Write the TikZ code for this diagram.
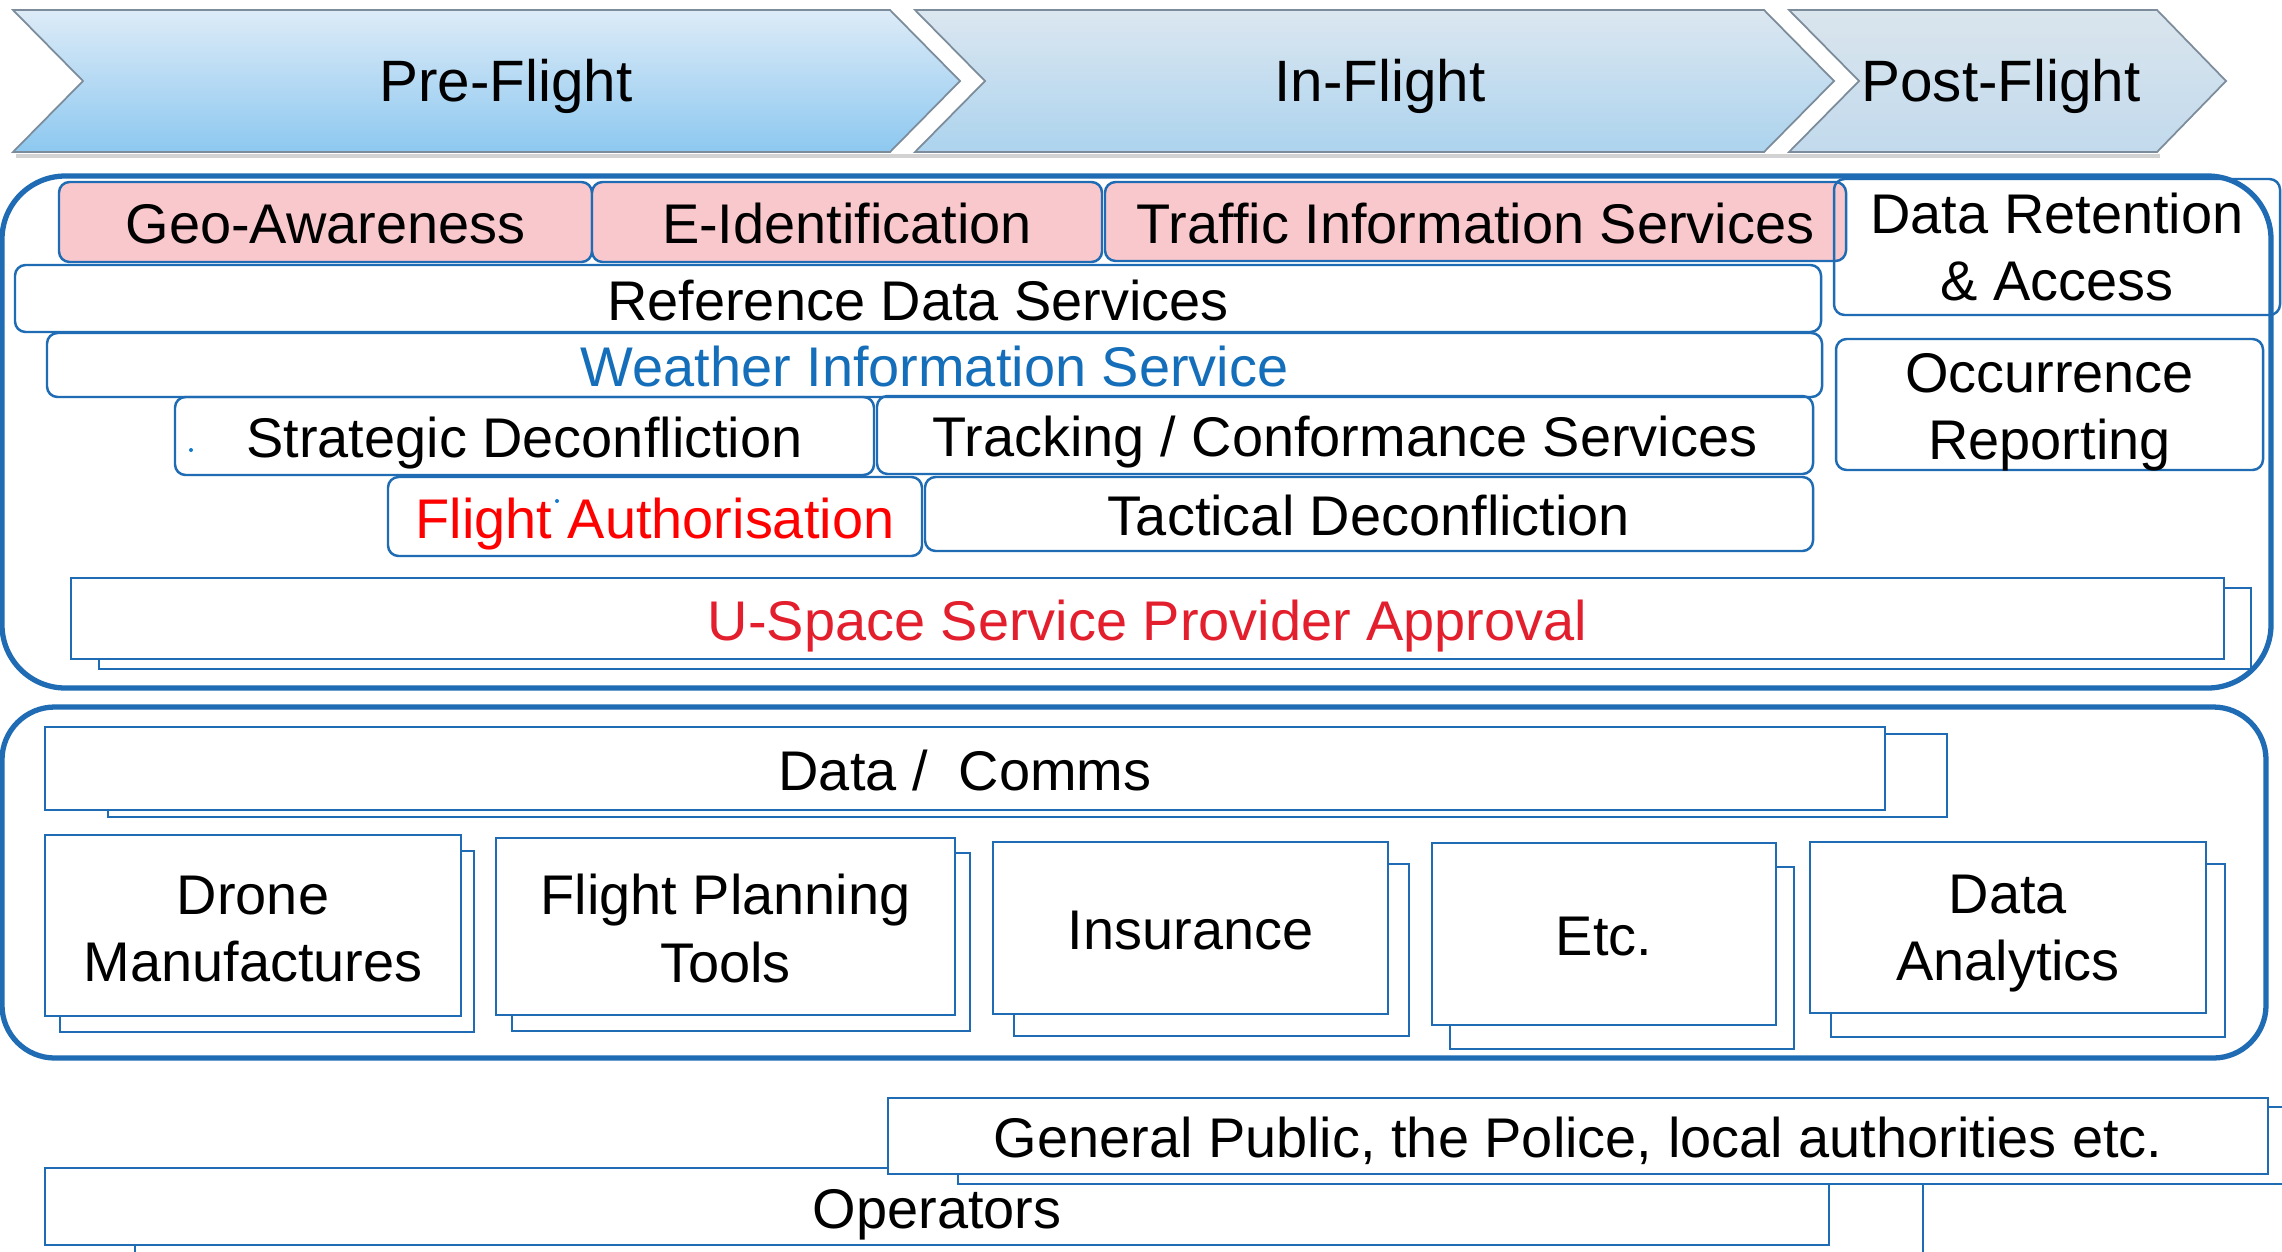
\documentclass[tikz,border=0pt]{standalone}
\usepackage{fontspec}
\setmainfont{Liberation Sans}
\usetikzlibrary{fit}
\definecolor{ublue}{RGB}{31,108,180}
\definecolor{pinkf}{RGB}{248,200,204}
\definecolor{wblue}{RGB}{20,110,185}
\definecolor{fred}{RGB}{255,0,0}
\definecolor{ured}{RGB}{227,30,45}
\definecolor{chevb}{RGB}{125,140,155}
\definecolor{preA}{RGB}{221,235,247}
\definecolor{preB}{RGB}{141,200,240}
\definecolor{inA}{RGB}{214,227,238}
\definecolor{inB}{RGB}{158,204,236}
\definecolor{postA}{RGB}{212,225,235}
\definecolor{postB}{RGB}{184,212,234}
\begin{document}
\begin{tikzpicture}[x=0.01cm,y=-0.01cm,
  lab/.style={font=\fontsize{15.9}{19.2}\selectfont, align=center, inner sep=0pt},
  one/.style={text height=12.5pt, text depth=0pt},
  rbox/.style={draw=ublue, line width=0.7pt, rounded corners=3pt, inner sep=0pt},
  sbox/.style={draw=ublue, line width=0.7pt, inner sep=0pt, fill=white},
  sback/.style={draw=ublue, line width=0.7pt, fill=white},
  container/.style={draw=ublue, line width=1.5pt},
  chev/.style={draw=chevb, line width=0.5pt},
  chevlab/.style={font=\fontsize{16.6}{20}\selectfont, inner sep=0pt, text height=13pt, text depth=0pt}
]
\useasboundingbox (0,0) rectangle (2282,1251);
\clip (0,0) rectangle (2282,1251);
\fill[white] (0,0) rectangle (2282,1251);

% chevrons
\draw[gray!35, line width=1.2pt] (16,156) -- (2160,156);
\path[chev, top color=preA, bottom color=preB] (13,10) -- (890,10) -- (960,81) -- (890,152) -- (13,152) -- (83,81) -- cycle;
\path[chev, top color=inA, bottom color=inB, fill opacity=0.85] (915,10) -- (1764,10) -- (1834,81) -- (1764,152) -- (915,152) -- (985,81) -- cycle;
\path[chev, top color=postA, bottom color=postB, fill opacity=0.85] (1789,10) -- (2157,10) -- (2226,81) -- (2157,152) -- (1789,152) -- (1859,81) -- cycle;
\node[chevlab] (pre) at (506,79) {Pre-Flight};
\node[chevlab] (in) at (1380,79) {In-Flight};
\node[chevlab] (post) at (2001,79) {Post-Flight};

% upper container
\draw[container, rounded corners=18pt] (2,176) rectangle (2271,688);
\node[rbox, fill=pinkf, fit={(59,182) (592,262)}] (geo) {};
\node[lab, one] (geoT) at (geo.center) {Geo-Awareness};
\node[rbox, fill=pinkf, fit={(592,182) (1102,262)}] (eid) {};
\node[lab, one] (eidT) at (eid.center) {E-Identification};
\node[rbox, fill=pinkf, fit={(1105,182) (1846,261)}] (tis) {};
\node[lab, one] (tisT) at (tis.center) {Traffic Information Services};
\node[rbox, fit={(1834,179) (2280,315)}] (dra) {};
\node[lab] (draT) at (dra.center) {Data Retention\\\& Access};
\node[rbox, fit={(1836,339) (2263,470)}] (occ) {};
\node[lab, yshift=-2.2pt] (occT) at (occ.center) {Occurrence\\Reporting};
\node[rbox, fit={(15,265) (1821,332)}] (rds) {};
\node[lab, one] (rdsT) at (rds.center) {Reference Data Services};
\node[rbox, fit={(47,333) (1822,397)}] (wis) {};
\node[lab, one, text=wblue] (wisT) at (wis.center) {Weather Information Service};
\node[rbox, fit={(175,397) (874,475)}] (sdc) {};
\node[lab, one] (sdcT) at (sdc.center) {Strategic Deconfliction};
\node[rbox, fit={(877,396) (1813,474)}] (tcs) {};
\node[lab, one] (tcsT) at (tcs.center) {Tracking / Conformance Services};
\node[rbox, fit={(388,477) (922,556)}] (fa) {};
\node[lab, one, text=fred] (faT) at (fa.center) {Flight Authorisation};
\node[rbox, fit={(925,477) (1813,551)}] (tac) {};
\node[lab, one] (tacT) at (tac.center) {Tactical Deconfliction};
\fill[cyan!60!blue] (191,450) circle (2);
\fill[cyan!60!blue] (557,501) circle (2);
\draw[sback] (99,588) rectangle (2251,669);
\node[sbox, fit={(71,578) (2224,659)}] (usp) {};
\node[lab, one, text=ured] (uspT) at (usp.center) {U-Space Service Provider Approval};

% lower container
\draw[container, rounded corners=15pt] (2,707) rectangle (2266,1058);
\draw[sback] (108,734) rectangle (1947,817);
\node[sbox, fit={(45,727) (1885,810)}] (dc) {};
\node[lab, one] (dcT) at (dc.center) {Data /\ \ Comms};
\draw[sback] (60,851) rectangle (474,1032);
\node[sbox, fit={(45,835) (461,1016)}] (drone) {};
\node[lab, yshift=-1pt] (droneT) at (drone.center) {Drone\\Manufactures};
\draw[sback] (512,853) rectangle (970,1031);
\node[sbox, fit={(496,838) (955,1015)}] (fpt) {};
\node[lab, yshift=-0.5pt] (fptT) at (fpt.center) {Flight Planning\\Tools};
\draw[sback] (1014,864) rectangle (1409,1036);
\node[sbox, fit={(993,842) (1388,1014)}] (ins) {};
\node[lab, one] (insT) at (ins.center) {Insurance};
\draw[sback] (1450,867) rectangle (1794,1049);
\node[sbox, fit={(1432,843) (1776,1025)}] (etc) {};
\node[lab, one] (etcT) at (etc.center) {Etc.};
\draw[sback] (1831,864) rectangle (2225,1037);
\node[sbox, fit={(1810,842) (2206,1013)}] (dan) {};
\node[lab, yshift=-1.7pt] (danT) at (dan.center) {Data\\Analytics};

% bottom
\draw[sback] (135,1178) rectangle (1923,1290);
\node[sbox, fit={(45,1168) (1829,1245)}] (ops) {};
\node[lab, one] (opsT) at (ops.center) {Operators};
\draw[sback] (958,1107) rectangle (2300,1184);
\node[sbox, fit={(888,1098) (2268,1174)}] (gp) {};
\node[lab, one] (gpT) at (gp.center) {General Public, the Police, local authorities etc.};
\end{tikzpicture}
\end{document}
